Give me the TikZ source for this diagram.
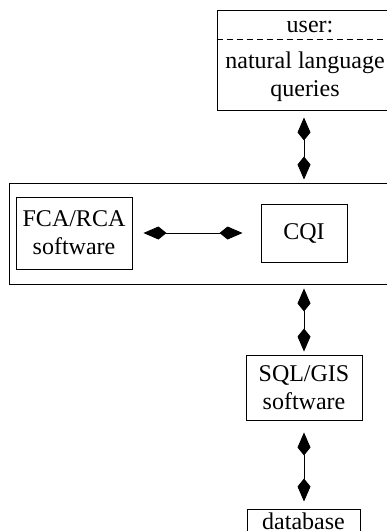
\documentclass[tikz,border=0pt]{standalone}
\usepackage{fontspec}
\setmainfont{Liberation Serif}
\usetikzlibrary{arrows.meta}

\tikzset{
  box/.style={draw, line width=0.9pt, inner sep=0pt, align=center,
              font=\fontsize{24}{28}\selectfont},
  txt/.style={inner sep=0pt, align=center, font=\fontsize{24}{28}\selectfont},
  link/.style={line width=0.9pt,
               {Kite[length=23pt,width=13pt,inset=8pt]}-{Kite[length=23pt,width=13pt,inset=8pt]}}
}

\begin{document}
\begin{tikzpicture}[x=1pt, y=-1pt]

\clip (0,0) rectangle (387,531);

% user box
\node [box, minimum width=183pt, minimum height=100pt] (userbox) at (308.5,60) {};
\node [txt] (usertxt) at (310,27) {user:};
\node [txt] (query)   at (305,77) {natural language\\queries};
\draw [line width=0.9pt, dash pattern=on 6pt off 4pt]
      (userbox.west |- 0,39) -- (userbox.east |- 0,39);

% outer frame
\node [box, minimum width=386pt, minimum height=101pt] (frame) at (202,233.5) {};
\node [box, minimum width=116pt, minimum height=72pt] (fca) at (74,233)  {FCA/RCA\\software};
\node [box, minimum width=86pt,  minimum height=58pt] (cqi) at (304,233) {CQI};

% lower boxes
\node [box, minimum width=116pt, minimum height=65pt] (sql) at (304,387.5) {SQL/GIS\\software};
\node [box, minimum width=113pt, text height=17pt, text depth=6pt, inner ysep=3pt,
       anchor=base] (db) at (303.5,529) {database};

% connectors
\draw [link, shorten <=7pt,  shorten >=3pt]  (userbox.south -| cqi.north) -- (cqi |- frame.north);
\draw [link, shorten <=11pt, shorten >=18pt] (fca.east) -- (cqi.west);
\draw [link, shorten <=4pt,  shorten >=3pt]  (cqi |- frame.south) -- (sql.north);
\draw [link, shorten <=12pt, shorten >=7pt]  (sql.south) -- (sql.south |- db.north);

\end{tikzpicture}
\end{document}
